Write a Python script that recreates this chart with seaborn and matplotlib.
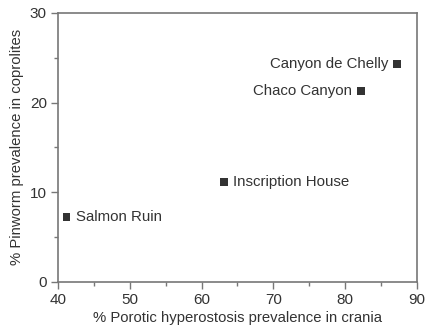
import matplotlib
matplotlib.use("Agg")
import matplotlib.pyplot as plt
import seaborn as sns
import pandas as pd
from matplotlib.ticker import MultipleLocator

sites = ["Salmon Ruin", "Inscription House", "Chaco Canyon", "Canyon de Chelly"]
porotic = [41.2, 63.1, 82.2, 87.2]
pinworm = [7.2, 11.1, 21.3, 24.3]
label_side = ["right", "right", "left", "left"]

df = pd.DataFrame({"x": porotic, "y": pinworm, "site": sites})

sns.set_theme(style="ticks")
plt.rcParams['font.family'] = ['Liberation Sans', 'DejaVu Sans']
txt = "#333333"
spine = "#777777"

fig, ax = plt.subplots(figsize=(4.26, 3.3), dpi=100)
fig.subplots_adjust(left=0.136, right=0.979, top=0.961, bottom=0.146)

sns.scatterplot(data=df, x="x", y="y", marker="s", s=32, color="#333333",
                edgecolor="none", ax=ax, legend=False)

for xv, yv, name, side in zip(porotic, pinworm, sites, label_side):
    if side == "right":
        ax.annotate(name, (xv, yv), xytext=(6.5, 0), textcoords="offset points",
                    ha="left", va="center", fontsize=10.8, color=txt)
    else:
        ax.annotate(name, (xv, yv), xytext=(-6.5, 0), textcoords="offset points",
                    ha="right", va="center", fontsize=10.8, color=txt)

ax.set_xlim(40, 90)
ax.set_ylim(0, 30)
ax.xaxis.set_major_locator(MultipleLocator(10))
ax.xaxis.set_minor_locator(MultipleLocator(5))
ax.yaxis.set_major_locator(MultipleLocator(10))
ax.yaxis.set_minor_locator(MultipleLocator(5))
ax.tick_params(axis="both", which="major", length=5, width=1, color=spine,
               labelsize=11, labelcolor=txt, direction="out", pad=3)
ax.tick_params(axis="both", which="minor", length=3, width=1, color=spine,
               direction="out")
for s in ax.spines.values():
    s.set_color(spine)
    s.set_linewidth(1.2)
    s.set_visible(True)

ax.set_xlabel("% Porotic hyperostosis prevalence in crania", fontsize=10.7, color=txt, labelpad=3)
ax.set_ylabel("% Pinworm prevalence in coprolites", fontsize=10.7, color=txt, labelpad=4)

fig.savefig("out.png", dpi=100)
